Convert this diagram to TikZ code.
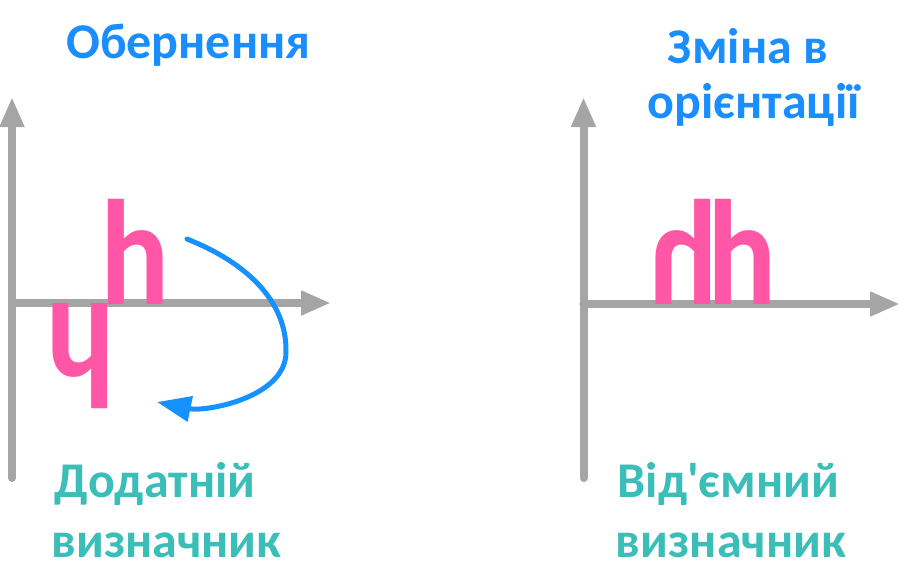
\documentclass[tikz,border=0pt]{standalone}
\usepackage{fontspec}
\setmainfont{Carlito}[Ligatures=TeXOff]
\newfontfamily\lbl{Carlito Bold}[Ligatures=TeXOff]
\usetikzlibrary{arrows.meta}
\definecolor{axisgray}{HTML}{A5A5A5}
\definecolor{letterpink}{HTML}{FF56A6}
\definecolor{titleblue}{HTML}{1A8EFF}
\definecolor{arrowblue}{HTML}{1592FF}
\definecolor{labelteal}{HTML}{3BBDB8}
\tikzset{
  axis/.style={draw=axisgray, line width=8pt, line cap=round,
    -{Triangle[length=30pt,width=23pt]}},
  glyph/.style={inner sep=0pt, anchor=base, text=letterpink,
    font=\lbl\fontsize{150}{150}\selectfont},
  title/.style={inner sep=0pt, anchor=base, text=titleblue,
    font=\lbl\fontsize{50}{55}\selectfont},
  verdict/.style={inner sep=0pt, anchor=base, text=labelteal,
    font=\lbl\fontsize{50}{55}\selectfont},
  turn/.style={draw=arrowblue, line width=5pt, line cap=round,
    -{Triangle[length=34pt,width=25pt]}}
}
\begin{document}
\begin{tikzpicture}[x=1pt,y=-1pt]
\useasboundingbox (0,0) rectangle (908,584);
% left axes
\coordinate (oL) at (12,303);
\coordinate (bL) at (12,478);
\coordinate (tL) at (12,97);
\coordinate (rL) at (331,303);
\draw[axis] (bL) -- (tL);
\draw[axis] (oL) -- (rL);
% right axes
\coordinate (oR) at (583.5,304);
\coordinate (bR) at (583.5,478);
\coordinate (tR) at (583.5,97);
\coordinate (rR) at (900,304);
\draw[axis] (bR) -- (tR);
\draw[axis] (oR) -- (rR);
% letters
\node[glyph, xscale=0.86] (hL) at (135,304) {h};
\node[glyph, xscale=0.86, rotate=180] (hRot) at (81,303) {h};
\node[glyph, xscale=-0.86] (hMir) at (684,304) {h};
\node[glyph, xscale=0.86] (hR) at (742,304) {h};
% rotation arrow
\coordinate (aS) at (187,239);
\coordinate (aM) at (286,352);
\coordinate (aE) at (157,402);
\draw[turn] (aS) .. controls (245,262) and (287,300) .. (aM)
  .. controls (286,398) and (205,412) .. (aE);
% titles
\node[title] (t1) at (188.5,58) {Обернення};
\node[title] (t2a) at (748,63) {Зміна в};
\node[title] (t2b) at (753.5,118) {орієнтації};
% verdicts
\node[verdict] (v1a) at (155,497) {Додатній};
\node[verdict] (v1b) at (166.5,557) {визначник};
\node[verdict] (v2a) at (728.5,497) {Від'ємний};
\node[verdict] (v2b) at (731,557) {визначник};
\end{tikzpicture}
\end{document}
